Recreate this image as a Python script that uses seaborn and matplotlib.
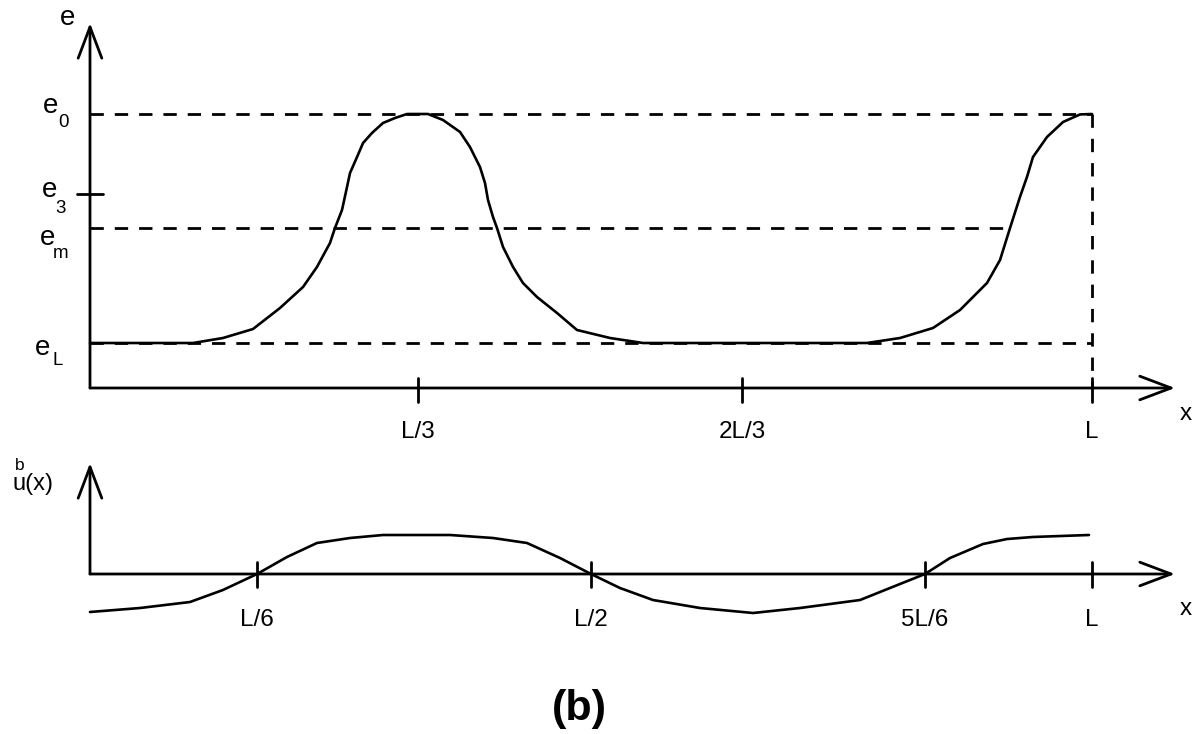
import matplotlib
matplotlib.use("Agg")
import matplotlib.pyplot as plt
import seaborn as sns

# ---------------- data (x in units of L, e normalised: eL=0, e0=1) ----------------
top_x = [0.0, 0.1028, 0.1327, 0.1627, 0.1896, 0.2126, 0.2265, 0.2395, 0.2445, 0.2515,
         0.2565, 0.2595, 0.2665, 0.2725, 0.2814, 0.2924, 0.3044, 0.3164, 0.3373, 0.3523,
         0.3693, 0.3792, 0.3892, 0.3942, 0.3972, 0.4022, 0.4062, 0.4122, 0.4222, 0.4321,
         0.4461, 0.4661, 0.4860, 0.5190, 0.5519, 0.7754, 0.8084, 0.8413, 0.8683, 0.8952,
         0.9082, 0.9182, 0.9281, 0.9351, 0.9411, 0.9551, 0.9711, 0.9880, 1.0]
top_e = [0.0, 0.0, 0.0218, 0.0611, 0.1528, 0.2445, 0.3319, 0.4367, 0.5022, 0.5808,
         0.6812, 0.7424, 0.8122, 0.8734, 0.9170, 0.9607, 0.9825, 1.0, 1.0, 0.9738,
         0.9214, 0.8559, 0.7686, 0.6987, 0.6245, 0.5502, 0.5022, 0.4192, 0.3319, 0.2620,
         0.2009, 0.1310, 0.0568, 0.0218, 0.0, 0.0, 0.0218, 0.0655, 0.1441, 0.2620,
         0.3624, 0.5022, 0.6376, 0.7249, 0.8122, 0.8996, 0.9651, 0.9980, 1.0]

bot_x = [0.0, 0.0499, 0.0998, 0.1327, 0.1667, 0.1966, 0.2265, 0.2595, 0.2924, 0.3593,
         0.4022, 0.4361, 0.4691, 0.5, 0.5289, 0.5619, 0.6088, 0.6617, 0.7086, 0.7685,
         0.7984, 0.8333, 0.8583, 0.8912, 0.9152, 0.9411, 0.997]
bot_u = [-0.974, -0.872, -0.718, -0.410, 0.0, 0.436, 0.795, 0.923, 1.0, 1.0,
         0.923, 0.795, 0.410, 0.0, -0.359, -0.667, -0.872, -1.0, -0.872, -0.667,
         -0.359, 0.0, 0.410, 0.769, 0.897, 0.949, 1.0]

e_levels = {"e0": 1.0, "e3": 0.651, "em": 0.502, "eL": 0.0}
top_ticks = [0.327, 0.651, 1.0]
top_tick_labels = ["L/3", "2L/3", "L"]
bot_ticks = [1/6, 1/2, 5/6, 1.0]
bot_tick_labels = ["L/6", "L/2", "5L/6", "L"]

# ---------------- figure ----------------
sns.set_style("white")
plt.rcParams["font.family"] = ["Liberation Sans", "DejaVu Sans"]
plt.rcParams["text.color"] = "black"

W, H = 1202, 734
fig = plt.figure(figsize=(W / 100, H / 100), dpi=100)

def px_x(px):
    return (px - 90) / 1002

xlim = (px_x(0), px_x(W))

# top axes: pixel rows 0..450
axT = fig.add_axes([0, (H - 450) / H, 1, 450 / H])
axT.set_xlim(*xlim)
axT.set_ylim((343 - 450) / 229, (343 - 0) / 229)
# bottom axes: pixel rows 450..734
axB = fig.add_axes([0, 0, 1, 284 / H])
axB.set_xlim(*xlim)
axB.set_ylim((574 - 734) / 39, (574 - 450) / 39)
for ax in (axT, axB):
    ax.set_axis_off()
    ax.patch.set_alpha(0)

K = "black"
AX_LW = 2.0
CURVE_LW = 1.9
DASH_LW = 2.0
dash = (0, (9.6 / DASH_LW, 7.9 / DASH_LW))

x_axis_top = (343 - 388) / 229
x_end = px_x(1175)
arrow_kw = dict(arrowstyle="->,head_length=2.25,head_width=0.85", lw=AX_LW, color=K,
                shrinkA=0, shrinkB=0, mutation_scale=10)

# ---- top panel ----
axT.annotate("", xy=(x_end, x_axis_top), xytext=(0, x_axis_top), arrowprops=arrow_kw)
axT.annotate("", xy=(0, (343 - 23) / 229), xytext=(0, x_axis_top), arrowprops=arrow_kw)

# dashed guides
axT.plot([0, 1], [e_levels["e0"]] * 2, color=K, lw=DASH_LW, ls=dash)
axT.plot([0, 0.918], [e_levels["em"]] * 2, color=K, lw=DASH_LW, ls=dash)
axT.plot([0, 1], [e_levels["eL"]] * 2, color=K, lw=DASH_LW, ls=dash)
axT.plot([1, 1], [e_levels["e0"], x_axis_top], color=K, lw=DASH_LW, ls=dash)

sns.lineplot(x=top_x, y=top_e, ax=axT, color=K, lw=CURVE_LW, sort=False,
             solid_joinstyle="round", solid_capstyle="round")

# e3 tick
axT.plot([px_x(77), px_x(103)], [e_levels["e3"]] * 2, color=K, lw=AX_LW)
# x ticks
for t, lab in zip(top_ticks, top_tick_labels):
    axT.plot([t, t], [(343 - 378) / 229, (343 - 402) / 229], color=K, lw=AX_LW)
    axT.text(t, (343 - 438) / 229, lab, ha="center", va="baseline", fontsize=17.5)

axT.text(px_x(1180), (343 - 420) / 229, "x", ha="left", va="baseline", fontsize=17.5)
axT.text(px_x(60), (343 - 25) / 229, "e", ha="left", va="baseline", fontsize=20)

# e labels: main letter + lowered subscript
lab_spec = [
    ("e", "0", 43, 113, 58, 127),
    ("e", "3", 42, 197, 55, 213),
    ("e", "m", 40, 245, 53, 258),
    ("e", "L", 35, 355, 53, 365),
]
for main, sub, mx, my, sx, sy in lab_spec:
    axT.text(px_x(mx), (343 - my) / 229, main, ha="left", va="baseline", fontsize=20)
    axT.text(px_x(sx), (343 - sy) / 229, sub, ha="left", va="baseline", fontsize=13.5)

# ---- bottom panel ----
axB.annotate("", xy=(x_end, 0), xytext=(0, 0), arrowprops=arrow_kw)
axB.annotate("", xy=(0, (574 - 463) / 39), xytext=(0, 0), arrowprops=arrow_kw)

sns.lineplot(x=bot_x, y=bot_u, ax=axB, color=K, lw=CURVE_LW, sort=False,
             solid_joinstyle="round", solid_capstyle="round")

for t, lab in zip(bot_ticks, bot_tick_labels):
    axB.plot([t, t], [(574 - 562) / 39, (574 - 587) / 39], color=K, lw=AX_LW)
    axB.text(t, (574 - 626) / 39, lab, ha="center", va="baseline", fontsize=17.5)

axB.text(px_x(1180), (574 - 615) / 39, "x", ha="left", va="baseline", fontsize=17.5)
axB.text(px_x(13), (574 - 490) / 39, "u(x)", ha="left", va="baseline", fontsize=17)
axB.text(px_x(15), (574 - 470) / 39, "b", ha="left", va="baseline", fontsize=12.5)

axB.text(px_x(579), (574 - 720) / 39, "(b)", ha="center", va="baseline",
         fontsize=31, fontweight="bold")

fig.savefig("out.png", dpi=100)
